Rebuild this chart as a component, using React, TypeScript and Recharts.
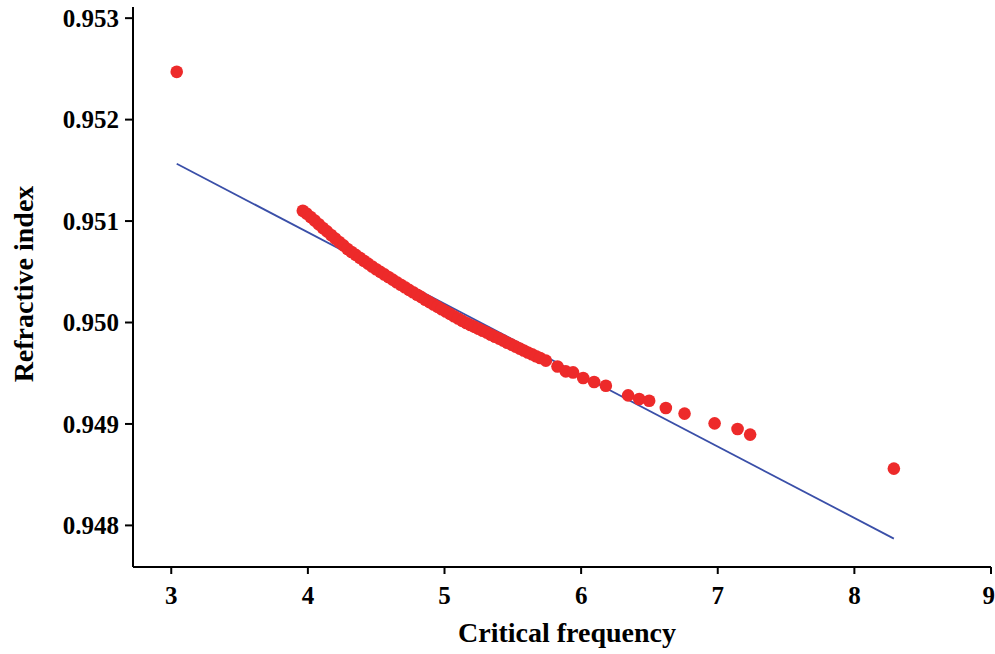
import React from 'react';
import { ScatterChart, Scatter, XAxis, YAxis, Label } from 'recharts';

// Observed points: critical frequency (x) vs refractive index (y)
const freq: number[] = [
  3.04,
  3.963, 3.99, 4.02, 4.05, 4.08, 4.11, 4.14, 4.17, 4.2, 4.23, 4.26, 4.29, 4.32, 4.35, 4.38,
  4.41, 4.44, 4.47, 4.5, 4.53, 4.56, 4.59, 4.62, 4.65, 4.68, 4.71, 4.74, 4.77, 4.8, 4.83,
  4.86, 4.89, 4.92, 4.95, 4.98, 5.01, 5.04, 5.07, 5.1, 5.13, 5.16, 5.19, 5.22, 5.25, 5.28,
  5.31, 5.34, 5.37, 5.4, 5.43, 5.46, 5.49, 5.52, 5.55, 5.58, 5.61, 5.64, 5.67, 5.7,
  5.742, 5.827, 5.888, 5.941, 6.015, 6.095, 6.181, 6.344, 6.425, 6.498, 6.62, 6.757,
  6.977, 7.145, 7.237, 8.289,
];
const refIndex: number[] = [
  0.952471,
  0.951101, 0.951075, 0.95104, 0.951005, 0.950968, 0.950932, 0.950898, 0.950862, 0.950828,
  0.950794, 0.95076, 0.950724, 0.950695, 0.950667, 0.950638, 0.950609, 0.95058, 0.950552,
  0.950525, 0.950499, 0.950474, 0.950448, 0.950423, 0.950397, 0.950372, 0.950347, 0.950322,
  0.950298, 0.950274, 0.95025, 0.950225, 0.950201, 0.950177, 0.950154, 0.950131, 0.950108,
  0.950085, 0.950062, 0.950039, 0.950016, 0.949995, 0.949976, 0.949957, 0.949938, 0.949919,
  0.9499, 0.94988, 0.94986, 0.949841, 0.949821, 0.949801, 0.949782, 0.949762, 0.949743,
  0.949724, 0.949705, 0.949687, 0.949668, 0.94965,
  0.949624, 0.949567, 0.949518, 0.949508, 0.949453, 0.949414, 0.949377, 0.949282, 0.949246,
  0.949229, 0.949158, 0.949102, 0.949006, 0.948951, 0.948895, 0.94856,
];

// Linear fit line end points
const fitFreq: number[] = [3.04, 8.289];
const fitIndex: number[] = [0.951565, 0.94787];

const xTicks: number[] = [3, 4, 5, 6, 7, 8, 9];
const yTicks: number[] = [0.948, 0.949, 0.95, 0.951, 0.952, 0.953];

const points = freq.map((x, i) => ({ x, y: refIndex[i] }));
const fit = fitFreq.map((x, i) => ({ x, y: fitIndex[i] }));

const FONT = '"Liberation Serif", "Times New Roman", serif';
const tickStyle = { fontFamily: FONT, fontWeight: 700, fontSize: 25, fill: '#000' };

const Dot = (props: any) => (
  <circle cx={props.cx} cy={props.cy} r={6.3} fill="#ED2A2A" />
);
const NoShape = () => null;

export default function App() {
  return (
    <div style={{ position: 'absolute', left: 0, top: 0, background: '#fff' }}>
      <ScatterChart
        width={995}
        height={654}
        margin={{ top: 7, right: 4, left: 0, bottom: 0 }}
      >
        <XAxis
          type="number"
          dataKey="x"
          domain={[2.72, 9]}
          ticks={xTicks}
          allowDataOverflow
          height={87}
          tickSize={7}
          tickMargin={12}
          tick={tickStyle}
          axisLine={{ stroke: '#000', strokeWidth: 2 }}
          tickLine={{ stroke: '#000', strokeWidth: 2 }}
        >
          <Label
            value="Critical frequency"
            position="insideBottom"
            offset={12}
            dx={5}
            style={{ fontFamily: FONT, fontWeight: 700, fontSize: 28, fill: '#000' }}
          />
        </XAxis>
        <YAxis
          type="number"
          dataKey="y"
          domain={[0.94759, 0.95311]}
          ticks={yTicks}
          allowDataOverflow
          width={133}
          tickSize={8}
          tickMargin={6}
          tick={tickStyle}
          tickFormatter={(v: number) => v.toFixed(3)}
          axisLine={{ stroke: '#000', strokeWidth: 2 }}
          tickLine={{ stroke: '#000', strokeWidth: 2 }}
        >
          <Label
            value="Refractive index"
            angle={-90}
            position="insideLeft"
            offset={23}
            dy={-3}
            style={{ fontFamily: FONT, fontWeight: 700, fontSize: 28, fill: '#000', textAnchor: 'middle' }}
          />
        </YAxis>
        <Scatter
          data={fit}
          line={{ stroke: '#3A4FA8', strokeWidth: 1.8 }}
          shape={NoShape}
          isAnimationActive={false}
        />
        <Scatter data={points} shape={Dot} isAnimationActive={false} />
      </ScatterChart>
    </div>
  );
}
